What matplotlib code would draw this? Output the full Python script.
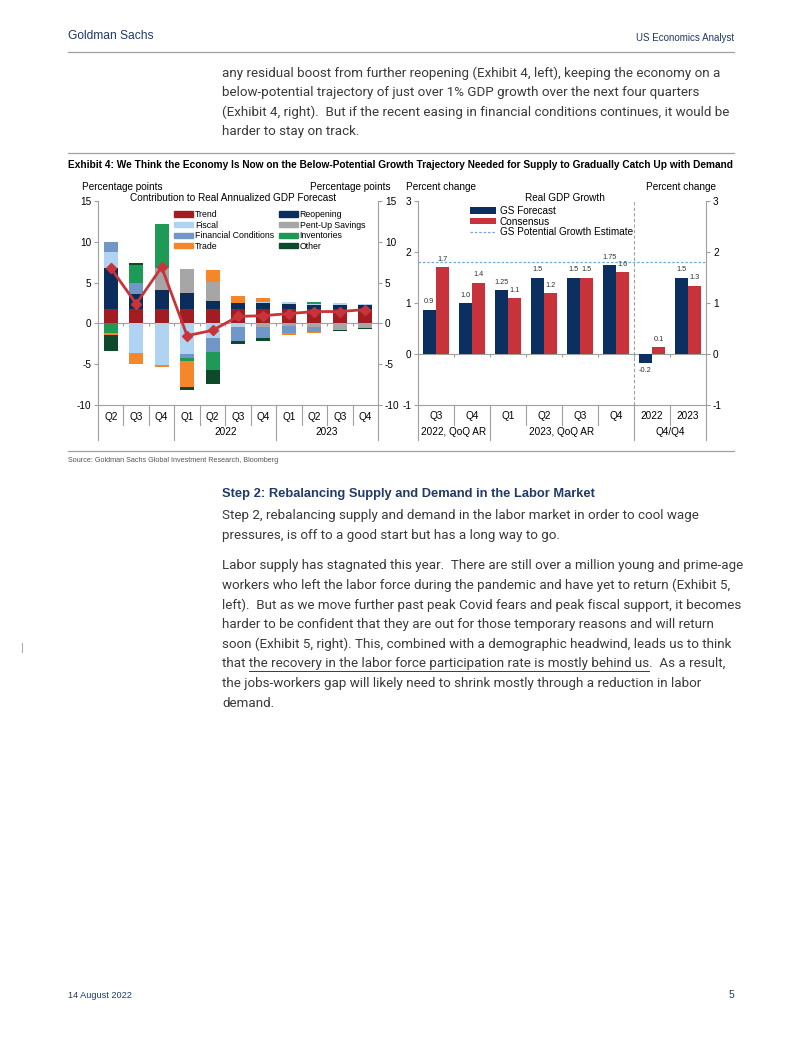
import matplotlib
matplotlib.use('Agg')
import matplotlib.pyplot as plt
import numpy as np
from matplotlib.lines import Line2D
from matplotlib.patches import Patch

W, H = 802, 1037

# ---- data: left chart (contributions, pp) ----
quarters_l = ['Q2', 'Q3', 'Q4', 'Q1', 'Q2', 'Q3', 'Q4', 'Q1', 'Q2', 'Q3', 'Q4']
years_l = ['2022', '2023']
trend = [1.75, 1.75, 1.75, 1.75, 1.75, 1.75, 1.75, 1.75, 1.75, 1.75, 1.75]
reopening = [5.05, 1.85, 2.4, 2.0, 0.95, 0.8, 0.7, 0.65, 0.5, 0.5, 0.45]
fiscal = [1.9, -3.65, -5.05, -3.75, -1.75, -0.45, 0.12, 0.2, 0.15, 0.2, 0.15]
pentup = [0, 0, 2.6, 2.95, 2.4, 0, -0.45, -0.3, -0.5, -0.75, -0.6]
fincond = [1.3, 1.3, 0.1, -0.5, -1.8, -1.75, -1.35, -0.9, -0.5, 0, 0]
inventories = [-1.15, 2.3, 5.3, -0.3, -2.1, 0, 0, 0, 0.25, 0, 0]
trade = [-0.3, -1.35, -0.25, -3.2, 1.5, 0.8, 0.5, -0.25, -0.2, 0, 0]
other = [-1.9, 0.15, 0, -0.45, -1.8, -0.28, -0.3, 0, 0, -0.2, -0.1]
gdp_forecast = [6.8, 2.4, 6.9, -1.5, -0.85, 0.85, 0.95, 1.2, 1.45, 1.45, 1.7]

# ---- data: right chart (real GDP growth, %) ----
cats_r = ['Q3', 'Q4', 'Q1', 'Q2', 'Q3', 'Q4', '2022', '2023']
groups_r = ['2022, QoQ AR', '2023, QoQ AR', 'Q4/Q4']
gs_forecast = [0.87, 1.0, 1.25, 1.5, 1.5, 1.75, -0.17, 1.5]
consensus = [1.7, 1.4, 1.1, 1.2, 1.5, 1.6, 0.13, 1.34]
gs_labels = ['0.9', '1.0', '1.25', '1.5', '1.5', '1.75', '-0.2', '1.5']
cons_labels = ['1.7', '1.4', '1.1', '1.2', '1.5', '1.6', '0.1', '1.3']
potential = 1.8

SANS = 'Liberation Sans'
BODYF = 'Roboto'
NAVY = '#1F3A68'
BODY = '#3A3A3A'

plt.rcParams['font.family'] = [SANS, 'DejaVu Sans']
plt.rcParams['axes.unicode_minus'] = False

fig = plt.figure(figsize=(W / 100, H / 100), dpi=100)
rend = fig.canvas.get_renderer()


def ptext(x, y, s, **kw):
    kw.setdefault('va', 'center')
    return fig.text(x / W, 1 - y / H, s, **kw)


def fit_size(s, width, **kw):
    # font size that makes s span width pixels
    t = ptext(0, 0, s, fontsize=10, **kw)
    w = t.get_window_extent(rend).width
    t.remove()
    return 10 * width / w


def ptext_fit(x, y, s, width, **kw):
    return ptext(x, y, s, fontsize=fit_size(s, width, **kw), **kw)


def hline(y, x0=68, x1=734, color='#A0A0A0', lw=0.9):
    fig.add_artist(Line2D([x0 / W, x1 / W], [1 - y / H, 1 - y / H], color=color, lw=lw))


# ---- page furniture ----
ptext_fit(68, 36, 'Goldman Sachs', 86, family=SANS, color=NAVY)
ptext_fit(734, 38, 'US Economics Analyst', 98, family=SANS, color=NAVY, ha='right')
hline(52)

para1 = ['any residual boost from further reopening (Exhibit 4, left), keeping the economy on a',
         'below-potential trajectory of just over 1% GDP growth over the next four quarters',
         '(Exhibit 4, right).  But if the recent easing in financial conditions continues, it would be',
         'harder to stay on track.']
body_fs = fit_size(para1[0], 500, family=BODYF)
for i, s in enumerate(para1):
    ptext(222, 73 + i * 19.6, s, family=BODYF, fontsize=body_fs, color=BODY)

hline(153)
ptext_fit(68, 165, 'Exhibit 4: We Think the Economy Is Now on the Below-Potential Growth Trajectory Needed for Supply to Gradually Catch Up with Demand',
          665, family=SANS, weight='bold', color='black')

# ---- left chart ----
x = np.arange(len(quarters_l))
ax = fig.add_axes([98 / W, 1 - 405 / H, 280 / W, 204 / H])
series = [('Trend', trend, '#A11D22'), ('Reopening', reopening, '#0B2D5B'),
          ('Fiscal', fiscal, '#AFD3F0'), ('Pent-Up Savings', pentup, '#A6A6A6'),
          ('Financial Conditions', fincond, '#7197C9'), ('Inventories', inventories, '#1E9A56'),
          ('Trade', trade, '#F5862A'), ('Other', other, '#0C4A2B')]
pos = np.zeros(len(x))
neg = np.zeros(len(x))
handles = {}
for name, vals, col in series:
    v = np.array(vals, dtype=float)
    p = np.where(v > 0, v, 0)
    n = np.where(v < 0, v, 0)
    ax.bar(x, p, 0.55, bottom=pos, color=col, zorder=2)
    ax.bar(x, n, 0.55, bottom=neg, color=col, zorder=2)
    pos += p
    neg += n
    handles[name] = Patch(color=col)
ax.axhline(0, color='#A0A0A0', lw=0.8, zorder=1)
ax.plot(x, gdp_forecast, color='#C9343B', lw=2, marker='D', markersize=5, zorder=3)
ax.set_xlim(-0.5, len(x) - 0.5)
ax.set_ylim(-10, 15)
ax.set_yticks([-10, -5, 0, 5, 10, 15])
ax.set_xticks([])
ax.spines['top'].set_visible(False)
for s in ['left', 'right', 'bottom']:
    ax.spines[s].set_color('#A0A0A0')
ax.tick_params(axis='y', labelsize=7.2, length=3, color='#A0A0A0', right=True, labelright=True, pad=2)
ax.vlines(np.arange(len(x) + 1) - 0.5, -0.35, 0, color='#A0A0A0', lw=0.8)

tr = ax.get_xaxis_transform()
for i, q in enumerate(quarters_l):
    ax.text(i, -0.058, q, transform=tr, ha='center', va='center', fontsize=7.2)
for b in np.arange(len(x) + 1) - 0.5:
    long = b in (-0.5, 2.5, 6.5, len(x) - 0.5)
    ax.plot([b, b], [0, -0.17 if long else -0.1], transform=tr, color='#A0A0A0', lw=0.8, clip_on=False)
ax.text(4.5, -0.132, years_l[0], transform=tr, ha='center', va='center', fontsize=7.2)
ax.text(8.5, -0.132, years_l[1], transform=tr, ha='center', va='center', fontsize=7.2)

order = ['Trend', 'Fiscal', 'Financial Conditions', 'Trade',
         'Reopening', 'Pent-Up Savings', 'Inventories', 'Other']
ax.legend([handles[k] for k in order], order, ncol=2, loc='upper left',
          bbox_to_anchor=(0.272, 0.955), frameon=False, fontsize=6.3,
          handlelength=2.2, handleheight=0.55, handletextpad=0.2,
          labelspacing=0.18, columnspacing=0.5, borderpad=0, borderaxespad=0)

ptext(82, 187, 'Percentage points', fontsize=7.2)
ptext(391, 187, 'Percentage points', fontsize=7.2, ha='right')
ptext(233, 198, 'Contribution to Real Annualized GDP Forecast', fontsize=7.2, ha='center')

# ---- right chart ----
xr = np.arange(len(cats_r))
ax2 = fig.add_axes([418 / W, 1 - 405 / H, 288 / W, 204 / H])
bw = 0.37
b1 = ax2.bar(xr - bw / 2, gs_forecast, bw, color='#0B2F5E', zorder=2)
b2 = ax2.bar(xr + bw / 2, consensus, bw, color='#C8323A', zorder=2)
pl = ax2.axhline(potential, color='#6FA8DC', lw=0.9, ls=(0, (2, 1.5)), zorder=1)
ax2.axhline(0, color='#A0A0A0', lw=0.8, zorder=1)
ax2.axvline(5.5, color='#A0A0A0', lw=0.8, ls=(0, (3, 2)), zorder=1)
for rect, lab in zip(b1, gs_labels):
    h = rect.get_height()
    ax2.annotate(lab, (rect.get_x() + rect.get_width() / 2, h), xytext=(0, 3 if h >= 0 else -3),
                 textcoords='offset points', ha='center', va='bottom' if h >= 0 else 'top', fontsize=5.3, color='#333333')
for rect, lab in zip(b2, cons_labels):
    h = rect.get_height()
    ax2.annotate(lab, (rect.get_x() + rect.get_width() / 2, h), xytext=(0, 3),
                 textcoords='offset points', ha='center', va='bottom', fontsize=5.3, color='#333333')
ax2.set_xlim(-0.5, len(xr) - 0.5)
ax2.set_ylim(-1, 3)
ax2.set_yticks([-1, 0, 1, 2, 3])
ax2.set_xticks([])
ax2.spines['top'].set_visible(False)
for s in ['left', 'right', 'bottom']:
    ax2.spines[s].set_color('#A0A0A0')
ax2.tick_params(axis='y', labelsize=7.2, length=3, color='#A0A0A0', right=True, labelright=True, pad=2)
ax2.vlines(np.arange(len(xr) + 1) - 0.5, -0.06, 0, color='#A0A0A0', lw=0.8)
tr2 = ax2.get_xaxis_transform()
for i, c in enumerate(cats_r):
    ax2.text(i, -0.052, c, transform=tr2, ha='center', va='center', fontsize=7.2)
for b in np.arange(len(xr) + 1) - 0.5:
    long = b in (-0.5, 1.5, 5.5, len(xr) - 0.5)
    ax2.plot([b, b], [0, -0.17 if long else -0.1], transform=tr2, color='#A0A0A0', lw=0.8, clip_on=False)
for g, cx in zip(groups_r, [0.5, 3.5, 6.5]):
    ax2.text(cx, -0.132, g, transform=tr2, ha='center', va='center', fontsize=7.2)
ax2.legend([b1, b2, pl], ['GS Forecast', 'Consensus', 'GS Potential Growth Estimate'],
           loc='upper left', bbox_to_anchor=(0.18, 0.975), frameon=False, fontsize=7.2,
           handlelength=2.6, handleheight=0.6, handletextpad=0.4, labelspacing=0.05,
           borderpad=0, borderaxespad=0)

ptext(406, 187, 'Percent change', fontsize=7.2)
ptext(716, 187, 'Percent change', fontsize=7.2, ha='right')
ptext(565, 198, 'Real GDP Growth', fontsize=7.2, ha='center')

hline(451)
ptext_fit(68, 460, 'Source: Goldman Sachs Global Investment Research, Bloomberg', 212, family=SANS, color='#555555')

# ---- lower text ----
ptext_fit(222, 494, 'Step 2: Rebalancing Supply and Demand in the Labor Market', 372, family=SANS,
          weight='bold', color=NAVY)
para2 = ['Step 2, rebalancing supply and demand in the labor market in order to cool wage',
         'pressures, is off to a good start but has a long way to go.']
for i, s in enumerate(para2):
    ptext(222, 516 + i * 19.6, s, family=BODYF, fontsize=body_fs, color=BODY)
para3 = ['Labor supply has stagnated this year.  There are still over a million young and prime-age',
         'workers who left the labor force during the pandemic and have yet to return (Exhibit 5,',
         'left).  But as we move further past peak Covid fears and peak fiscal support, it becomes',
         'harder to be confident that they are out for those temporary reasons and will return',
         'soon (Exhibit 5, right). This, combined with a demographic headwind, leads us to think',
         'that the recovery in the labor force participation rate is mostly behind us.  As a result,',
         'the jobs-workers gap will likely need to shrink mostly through a reduction in labor',
         'demand.']
for i, s in enumerate(para3):
    ptext(222, 566 + i * 19.6, s, family=BODYF, fontsize=body_fs, color=BODY)


def width_px(s):
    t = ptext(0, 0, s, family=BODYF, fontsize=body_fs)
    w = t.get_window_extent(rend).width
    t.remove()
    return w


# underline one phrase on the 6th line
u0 = 222 + width_px('that t') - width_px('t')
u1 = 222 + width_px('that the recovery in the labor force participation rate is mostly behind us')
yline = 566 + 5 * 19.6 + 7
hline(yline, u0, u1, color=BODY, lw=0.7)

fig.add_artist(Line2D([22 / W, 22 / W], [1 - 643 / H, 1 - 652 / H], color='#B0B0B0', lw=0.8))

ptext_fit(68, 995, '14 August 2022', 64, family=SANS, color=NAVY)
ptext(734, 995, '5', family=SANS, fontsize=7.5, color=NAVY, ha='right')

fig.savefig('out.png', dpi=100)
